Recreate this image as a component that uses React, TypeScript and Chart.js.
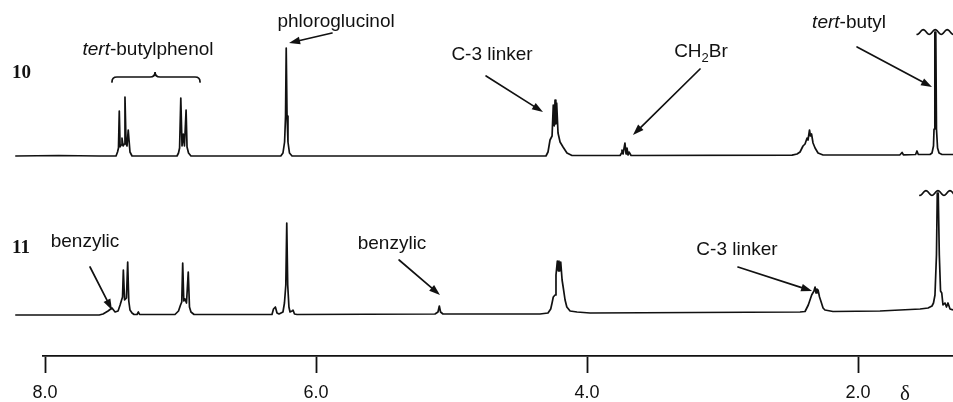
import { useEffect, useRef } from 'react';
import { Chart, registerables } from 'chart.js';

Chart.register(...registerables);

// ---------- data (chemical shift δ / ppm, intensity above the trace baseline) ----------
const ppm10 = [
  8.22, 7.9, 7.6, 7.476, 7.465, 7.458, 7.452, 7.446, 7.439, 7.432, 7.424, 7.416, 7.41, 7.402, 7.395, 7.386, 7.373, 7.358,
  7.026, 7.015, 7.007, 6.998, 6.989, 6.98, 6.971, 6.959, 6.952, 6.941, 6.923,
  6.26, 6.244, 6.232, 6.225, 6.22, 6.214, 6.207, 6.196, 6.177,
  4.303, 4.288, 4.273, 4.258, 4.249, 4.242, 4.236, 4.23, 4.224, 4.214, 4.199, 4.177, 4.148, 4.111,
  3.756, 3.745, 3.742, 3.734, 3.72, 3.712, 3.705, 3.697, 3.69, 3.675,
  2.487, 2.45, 2.428, 2.406, 2.391, 2.376, 2.369, 2.358, 2.351, 2.343, 2.332, 2.317, 2.295, 2.258,
  1.69, 1.675, 1.665, 1.575, 1.565, 1.555,
  1.469, 1.454, 1.443, 1.439, 1.433, 1.426, 1.421, 1.413, 1.402, 1.38, 1.299,
];
const int10 = [
  0, 0.5, 0, 0, 4, 8, 45, 9, 11, 18, 10, 12, 59, 12, 10, 26, 4, 0,
  0, 3, 8, 58, 10, 22, 10, 46, 9, 3, 0,
  0, 3, 14, 40, 108, 40, 14, 3, 0,
  0, 4, 16, 20, 51, 30, 56, 32, 53, 23, 14, 9, 3, 0.5,
  0.5, 3, 6, 2, 13, 2, 8, 1, 4, 0.5,
  0.8, 2, 4, 10, 12, 18, 16, 26, 20, 22, 13, 8, 3, 1,
  1.2, 3.5, 1.2, 1.5, 5, 1.5,
  1.5, 3, 10, 27, 124, 124, 27, 8, 3, 1.5, 1.5,
];

const ppm11 = [
  8.22, 7.6, 7.572, 7.535, 7.506, 7.483, 7.461, 7.446, 7.435, 7.428, 7.422, 7.413, 7.399, 7.39, 7.382, 7.373, 7.358, 7.343,
  7.321, 7.311, 7.302,
  7.041, 7.015, 7.0, 6.991, 6.984, 6.976, 6.967, 6.956, 6.943, 6.934, 6.923, 6.9,
  6.325, 6.314, 6.3, 6.288, 6.273, 6.244, 6.233, 6.223, 6.216, 6.209, 6.2, 6.192, 6.177, 6.17, 6.159, 6.14,
  5.122, 5.1, 5.09, 5.081, 5.063,
  4.347, 4.288, 4.268, 4.258, 4.249, 4.236, 4.229, 4.219, 4.212, 4.207, 4.201, 4.194, 4.184, 4.175, 4.162, 4.149, 4.125,
  4.074, 3.978,
  2.428, 2.391, 2.367, 2.342, 2.325, 2.317, 2.31, 2.303, 2.295, 2.284, 2.272, 2.258, 2.244, 2.185,
  1.838, 1.69, 1.542, 1.483, 1.454, 1.443, 1.432, 1.421, 1.415, 1.408, 1.4, 1.391, 1.382, 1.373, 1.358, 1.347, 1.336,
  1.321, 1.299,
];
const int11 = [
  0, 0, 1, 4, 7, 3, 4, 10, 15, 18, 45, 15, 17, 53, 14, 5, 2, 0.5,
  0.5, 3, 0.5,
  0.5, 4, 10, 13, 52, 14, 16, 12, 43, 8, 3, 0.5,
  0.5, 6, 8, 2, 1, 3, 12, 30, 92, 30, 8, 3, 4, 5, 1, 0.5,
  1, 3, 9, 3, 1,
  1, 2, 6, 12, 18, 20, 40, 54, 44, 54, 44, 53, 35, 27, 15, 8, 4,
  3, 2,
  3, 3.5, 10, 20, 24, 28, 22, 26, 25, 18, 13, 7, 5, 3.5,
  4, 5, 6, 7, 9, 12, 20, 60, 122, 122, 60, 24, 22, 10, 12, 8, 12,
  6, 5,
];

const tickValues = [8.0, 6.0, 4.0, 2.0];
const deltaPosition = 1.653;
const spectrumNames = ['10', '11'];
const xMin = 1.299;
const xMax = 8.015;

// ---------- layout of the stacked traces ----------
const OFFSET_10 = 159;
const OFFSET_11 = 0;
const Y_MIN = -41;
const Y_MAX = 315;

const INK = '#111111';
const SANS = '"Liberation Sans", Arial, Helvetica, sans-serif';
const SERIF = '"Liberation Serif", "Times New Roman", serif';
const LABEL_SIZE = 19;

type Part = { t: string; italic?: boolean; sub?: boolean };
const textNotes: { parts: Part[]; at: [number, number] }[] = [
  { parts: [{ t: 'tert', italic: true }, { t: '-butylphenol' }], at: [7.24, 267] },
  { parts: [{ t: 'phloroglucinol' }], at: [5.852, 295] },
  { parts: [{ t: 'C-3 linker' }], at: [4.701, 262] },
  { parts: [{ t: 'CH' }, { t: '2', sub: true }, { t: 'Br' }], at: [3.159, 265] },
  { parts: [{ t: 'tert', italic: true }, { t: '-butyl' }], at: [2.066, 294] },
  { parts: [{ t: 'benzylic' }], at: [7.705, 75] },
  { parts: [{ t: 'benzylic' }], at: [5.439, 73] },
  { parts: [{ t: 'C-3 linker' }], at: [2.893, 67] },
];
const arrowNotes: { from: [number, number]; to: [number, number] }[] = [
  { from: [5.882, 282], to: [6.199, 272] },
  { from: [4.745, 239], to: [4.325, 203] },
  { from: [3.166, 246], to: [3.661, 180] },
  { from: [2.007, 268], to: [1.454, 228] },
  { from: [7.668, 48], to: [7.506, 5] },
  { from: [5.387, 55], to: [5.085, 20] },
  { from: [2.886, 48], to: [2.339, 24] },
];
const nameNotes: { text: string; at: [number, number] }[] = [
  { text: spectrumNames[0], at: [8.244, 242] },
  { text: spectrumNames[1], at: [8.244, 67] },
];
const braceNote = { left: 7.506, right: 6.856, mid: 7.188, level: 238 };
const breakNotes: [number, number][] = [
  [1.43, 124 + OFFSET_10],
  [1.41, 122 + OFFSET_11],
];

const annotationPlugin = {
  id: 'nmrAnnotations',
  afterDatasetsDraw(chart: any) {
    const { ctx, chartArea } = chart;
    const xs = chart.scales.x;
    const ys = chart.scales.y;
    const px = (d: number) => xs.getPixelForValue(d);
    const py = (v: number) => ys.getPixelForValue(v);
    ctx.save();
    ctx.fillStyle = INK;
    ctx.strokeStyle = INK;

    // spectrum numbers
    ctx.font = `bold 19px ${SERIF}`;
    ctx.textAlign = 'left';
    ctx.textBaseline = 'middle';
    nameNotes.forEach((n) => ctx.fillText(n.text, px(n.at[0]), py(n.at[1])));

    // text labels
    textNotes.forEach((n) => {
      const fontOf = (p: Part) =>
        `${p.italic ? 'italic ' : ''}${p.sub ? 13 : LABEL_SIZE}px ${SANS}`;
      let total = 0;
      const widths = n.parts.map((p) => {
        ctx.font = fontOf(p);
        const w = ctx.measureText(p.t).width;
        total += w;
        return w;
      });
      let cx = px(n.at[0]) - total / 2;
      const base = py(n.at[1]) + 7;
      ctx.textAlign = 'left';
      ctx.textBaseline = 'alphabetic';
      n.parts.forEach((p, i) => {
        ctx.font = fontOf(p);
        ctx.fillText(p.t, cx, p.sub ? base + 5 : base);
        cx += widths[i];
      });
    });

    // arrows
    ctx.lineWidth = 1.7;
    ctx.lineCap = 'round';
    arrowNotes.forEach((a) => {
      const x0 = px(a.from[0]);
      const y0 = py(a.from[1]);
      const x1 = px(a.to[0]);
      const y1 = py(a.to[1]);
      const ang = Math.atan2(y1 - y0, x1 - x0);
      const head = 11;
      const half = 3.8;
      const bx = x1 - head * Math.cos(ang);
      const by = y1 - head * Math.sin(ang);
      ctx.beginPath();
      ctx.moveTo(x0, y0);
      ctx.lineTo(bx, by);
      ctx.stroke();
      ctx.beginPath();
      ctx.moveTo(x1, y1);
      ctx.lineTo(bx + half * Math.sin(ang), by - half * Math.cos(ang));
      ctx.lineTo(bx - half * Math.sin(ang), by + half * Math.cos(ang));
      ctx.closePath();
      ctx.fill();
    });

    // brace over the tert-butylphenol doublets
    {
      const l = px(braceNote.left);
      const r = px(braceNote.right);
      const m = px(braceNote.mid);
      const yL = py(braceNote.level);
      const k = 5;
      ctx.lineWidth = 1.7;
      ctx.beginPath();
      ctx.moveTo(l, yL + k);
      ctx.quadraticCurveTo(l, yL, l + k, yL);
      ctx.lineTo(m - k, yL);
      ctx.quadraticCurveTo(m, yL, m, yL - k);
      ctx.quadraticCurveTo(m, yL, m + k, yL);
      ctx.lineTo(r - k, yL);
      ctx.quadraticCurveTo(r, yL, r, yL + k);
      ctx.stroke();
    }

    // wavy truncation marks on the tert-butyl singlets
    ctx.lineWidth = 1.7;
    breakNotes.forEach(([d, v]) => {
      const cx = px(d);
      const cy = py(v);
      ctx.beginPath();
      for (let i = 0; i <= 36; i++) {
        const xx = cx - 18 + i;
        const yy = cy + 2.4 * Math.cos((i / 12) * Math.PI * 2);
        if (i === 0) ctx.moveTo(xx, yy);
        else ctx.lineTo(xx, yy);
      }
      ctx.stroke();
    });

    // delta symbol beside the scale
    ctx.font = `21px ${SERIF}`;
    ctx.textAlign = 'center';
    ctx.textBaseline = 'alphabetic';
    ctx.fillText('δ', px(deltaPosition), chartArea.bottom + 44);

    ctx.restore();
  },
};

export default function App() {
  const canvasRef = useRef<HTMLCanvasElement>(null);

  useEffect(() => {
    const canvas = canvasRef.current;
    if (!canvas) return;
    const toPoints = (ppm: number[], ints: number[], offset: number) =>
      ppm.map((d, i) => ({ x: d, y: ints[i] + offset }));

    const chart = new Chart(canvas, {
      type: 'line',
      data: {
        datasets: [
          {
            label: spectrumNames[0],
            data: toPoints(ppm10, int10, OFFSET_10),
            borderColor: INK,
            borderWidth: 1.7,
            pointRadius: 0,
            tension: 0,
            fill: false,
            clip: false as any,
            borderJoinStyle: 'round',
          },
          {
            label: spectrumNames[1],
            data: toPoints(ppm11, int11, OFFSET_11),
            borderColor: INK,
            borderWidth: 1.7,
            pointRadius: 0,
            tension: 0,
            fill: false,
            clip: false as any,
            borderJoinStyle: 'round',
          },
        ],
      },
      options: {
        animation: false,
        responsive: false,
        devicePixelRatio: 1,
        events: [],
        layout: { padding: { left: 43, right: 0, top: 0, bottom: 0 } },
        plugins: {
          legend: { display: false },
          tooltip: { enabled: false },
          title: { display: false },
        },
        scales: {
          x: {
            type: 'linear',
            reverse: true,
            min: xMin,
            max: xMax,
            afterBuildTicks: (axis: any) => {
              axis.ticks = tickValues.map((v) => ({ value: v }));
            },
            afterFit: (axis: any) => {
              axis.height = 46;
            },
            border: { display: true, color: INK, width: 1.8 },
            grid: {
              display: true,
              drawOnChartArea: false,
              drawTicks: true,
              tickLength: 17,
              tickWidth: 1.8,
              tickColor: INK,
            },
            ticks: {
              autoSkip: false,
              maxRotation: 0,
              padding: 9,
              color: INK,
              font: { family: SANS, size: 18 },
              callback: (v: any) => Number(v).toFixed(1),
            },
          },
          y: {
            type: 'linear',
            display: false,
            min: Y_MIN,
            max: Y_MAX,
          },
        },
      },
      plugins: [annotationPlugin],
    });
    return () => chart.destroy();
  }, []);

  return (
    <div style={{ position: 'fixed', left: 0, top: 0, width: 953, height: 402, background: '#fff' }}>
      <canvas ref={canvasRef} width={953} height={402} style={{ display: 'block' }} />
    </div>
  );
}
